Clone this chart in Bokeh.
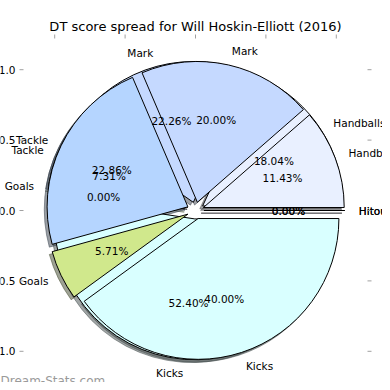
import numpy as np
from bokeh.plotting import figure
from bokeh.models import Range1d, ColumnDataSource
from bokeh.embed import file_html
from bokeh.resources import INLINE
from bokeh.core.properties import value

# ---------------- data ----------------
title_text = "DT score spread for Will Hoskin-Elliott (2016)"
watermark = "Dream-Stats.com"
categories = ["Hitouts", "Handballs", "Mark", "Tackle", "Goals", "Kicks"]
pct_front = [0.00, 11.43, 20.00, 22.86, 5.71, 40.00]
pct_back = [0.00, 18.04, 22.26, 7.31, 0.00, 52.40]
colors = ["#F2F2FF", "#E9F0FF", "#C5D9FF", "#B5D5FF", "#D0E88C", "#D9FFFF"]
tick_values = [-1.0, -0.5, 0.0, 0.5, 1.0]
tick_labels = ["\u22121.0", "\u22120.5", "0.0", "0.5", "1.0"]

# ---------------- layout constants ----------------
S = 140.8          # pixels per data unit
CX, CY = 195, 210  # pie centre in picture pixels
W = H = 382
EXPLODE = 0.06
LIM = 1.25
FONT = value("DejaVu Sans")


def dx(px):
    return px / S


x0 = (0 - CX) / S
x1 = (W - CX) / S
y1 = CY / S
y0 = (CY - H) / S

p = figure(width=W, height=H, output_backend="svg", toolbar_location=None,
           x_range=Range1d(x0, x1), y_range=Range1d(y0, y1),
           min_border=0, x_axis_location=None, y_axis_location=None,
           background_fill_color="white", border_fill_color="white")
p.outline_line_color = None
p.xgrid.visible = False
p.ygrid.visible = False


def geom(pcts):
    v = np.array(pcts, dtype=float)
    fr = v / v.sum()
    t2 = np.cumsum(fr) * 2 * np.pi
    t1 = np.concatenate([[0.0], t2[:-1]])
    tm = (t1 + t2) / 2
    cx = EXPLODE * np.cos(tm)
    cy = EXPLODE * np.sin(tm)
    return v, t1, t2, tm, cx, cy


def darker(c, f=0.3):
    r, g, b = int(c[1:3], 16), int(c[3:5], 16), int(c[5:7], 16)
    return "#%02x%02x%02x" % (int(r * f), int(g * f), int(b * f))


pies = [geom(pct_back), geom(pct_front)]
cols = np.array(colors)
shadow_cols = np.array([darker(c) for c in colors])

# shadows (below every wedge)
for v, t1, t2, tm, cx, cy in pies:
    nz = v > 0
    src = ColumnDataSource(dict(x=cx[nz] - 0.02, y=cy[nz] - 0.02, s=t1[nz], e=t2[nz],
                                c=shadow_cols[nz]))
    p.wedge(x="x", y="y", radius=1.0, start_angle="s", end_angle="e",
            direction="anticlock", source=src, fill_color="c", line_color="c",
            fill_alpha=0.5, line_alpha=0.5, line_width=1)
    z = ~nz
    p.segment(x0=cx[z] - 0.02, y0=cy[z] - 0.02,
              x1=cx[z] - 0.02 + np.cos(t1[z]), y1=cy[z] - 0.02 + np.sin(t1[z]),
              line_color=list(shadow_cols[z]), line_alpha=0.5, line_width=1.5)

# wedges: back pie first, front pie on top
for v, t1, t2, tm, cx, cy in pies:
    nz = v > 0
    src = ColumnDataSource(dict(x=cx[nz], y=cy[nz], s=t1[nz], e=t2[nz], c=cols[nz]))
    p.wedge(x="x", y="y", radius=1.0, start_angle="s", end_angle="e",
            direction="anticlock", source=src, fill_color="c",
            line_color="black", line_width=1)
    z = ~nz
    p.segment(x0=cx[z], y0=cy[z], x1=cx[z] + np.cos(t1[z]), y1=cy[z] + np.sin(t1[z]),
              line_color="black", line_width=1)

# labels and percentages
for v, t1, t2, tm, cx, cy in pies:
    lx = cx + 1.1 * np.cos(tm)
    ly = cy + 1.1 * np.sin(tm)
    right = lx > 0
    for mask, align in ((right, "left"), (~right, "right")):
        src = ColumnDataSource(dict(x=lx[mask], y=ly[mask],
                                    t=[c for c, m in zip(categories, mask) if m]))
        p.text(x="x", y="y", text="t", source=src, text_align=align,
               text_baseline="middle", text_font=FONT, text_font_size="10.5px",
               text_color="black")
    px_ = cx + 0.6 * np.cos(tm)
    py_ = cy + 0.6 * np.sin(tm)
    src = ColumnDataSource(dict(x=px_, y=py_, t=["%.2f%%" % a for a in v]))
    p.text(x="x", y="y", text="t", source=src, text_align="center",
           text_baseline="middle", text_font=FONT, text_font_size="10.5px",
           text_color="black")

# ticks (inward, classic style)
tv = np.array(tick_values)
n = len(tv)
tl = dx(4)
tick_col = "#a0a0a0"
p.segment(x0=np.full(n, -LIM), y0=tv, x1=np.full(n, -LIM + tl), y1=tv,
          line_color=tick_col, line_width=1)
p.segment(x0=np.full(n, LIM), y0=tv, x1=np.full(n, LIM - tl), y1=tv,
          line_color=tick_col, line_width=1)
p.segment(x0=tv, y0=np.full(n, LIM), x1=tv, y1=np.full(n, LIM - tl),
          line_color=tick_col, line_width=1)
p.segment(x0=tv, y0=np.full(n, -LIM), x1=tv, y1=np.full(n, -LIM + tl),
          line_color=tick_col, line_width=1)

# tick labels
p.text(x=np.full(n, -LIM - dx(4)), y=tv, text=tick_labels, text_align="right",
       text_baseline="middle", text_font=FONT, text_font_size="10.5px",
       text_color="black")
p.text(x=tv, y=np.full(n, -LIM), text=tick_labels, text_align="center",
       text_baseline="top", text_font=FONT, text_font_size="10.5px",
       text_color="black")

# title
p.text(x=[0.0], y=[(CY - 26) / S], text=[title_text], text_align="center",
       text_baseline="middle", text_font=FONT, text_font_size="13px",
       text_color="black")

# watermark
p.text(x=[(0 - CX) / S], y=[(CY - 380) / S], text=[watermark], text_align="left",
       text_baseline="middle", text_font=FONT, text_font_size="12px",
       text_color="#9a9a9a")

open("out.html", "w").write(file_html(p, INLINE))
